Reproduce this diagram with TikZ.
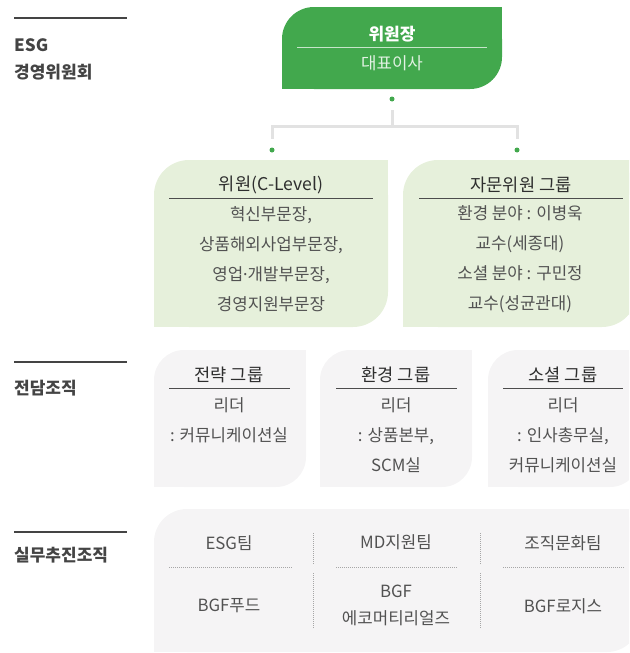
\documentclass[tikz,border=0pt]{standalone}
\usepackage{fontspec}
\setmainfont{Noto Sans CJK KR}
\newfontfamily\latinfont{Noto Sans}
\usetikzlibrary{calc}

\definecolor{esggreen}{HTML}{42A84D}
\definecolor{palegreen}{HTML}{E6F0DB}
\definecolor{palegray}{HTML}{F5F4F5}
\definecolor{linkgray}{HTML}{E2E2E2}
\definecolor{inkgray}{HTML}{444444}

% box with round top-left and bottom-right corners: x1,y1,x2,y2,radius,colour
\newcommand{\leafbox}[6]{%
  \fill[#6, rounded corners=#5pt] (#1,#2) rectangle (#3,#4);
  \fill[#6] (#3-#5,#2) rectangle (#3,#2+#5);
  \fill[#6] (#1,#4-#5) rectangle (#1+#5,#4);
}

\begin{document}
\begin{tikzpicture}[x=1pt,y=-1pt]
   \tikzstyle{every node}=[inner sep=0pt, font=\fontsize{16.8}{30}\selectfont, text=black!68]
   \tikzstyle{head}=[anchor=west, font=\fontsize{17}{20}\selectfont\bfseries, text=inkgray]
   \tikzstyle{title}=[font=\fontsize{17.6}{20}\selectfont, text=black!82]
   \tikzstyle{body}=[align=center]
   \tikzstyle{headrule}=[line width=2.5pt, draw=inkgray]
   \tikzstyle{rule}=[line width=0.9pt, draw=black!70]
   \tikzstyle{dotrule}=[line width=0.8pt, draw=black!35, dash pattern=on 1pt off 1pt]
   \tikzstyle{link}=[line width=3pt, draw=linkgray]
   \tikzstyle{dot}=[circle, fill=esggreen, minimum size=5pt]

\useasboundingbox (0,0) rectangle (629,653);
\clip (0,0) rectangle (629,653);

% left column
\draw[headrule] (14,18) -- (127,18);
\node[head] (esg) at (14,45) {ESG};
\node[head] (board) at (14,72) {경영위원회};
\draw[headrule] (14,362) -- (127,362);
\node[head] (dedicated) at (14,388) {전담조직};
\draw[headrule] (14,532) -- (127,532);
\node[head] (working) at (14,555) {실무추진조직};

% committee
\leafbox{282}{7}{502}{89}{32}{esggreen}
\node[font=\fontsize{17}{20}\selectfont\bfseries, text=white] (chair) at (392,34) {위원장};
\draw[line width=1pt, draw=white!70!esggreen] (297,47) -- (487,47);
\node[text=white!85!esggreen] (ceo) at (392,63) {대표이사};

\node[dot] (d0) at (392,99) {};
\node[dot] (d1) at (272,150) {};
\node[dot] (d2) at (517,150) {};
\draw[link] ($(d0)+(0,11)$) -- ($(d0)+(0,27)$);
\draw[link] ($(d1)+(0,-11)$) |- ($(d0)+(0,27)$) -| ($(d2)+(0,-11)$);

\leafbox{154}{160}{388}{327}{35}{palegreen}
\node[title] (member) at (271,185) {위원(C-Level)};
\draw[rule] (169,198) -- (373,198);
\node[body] (memberlist) at (271,259) {혁신부문장,\\상품해외사업부문장,\\영업{\latinfont ·}개발부문장,\\경영지원부문장};

\leafbox{403}{160}{637}{327}{35}{palegreen}
\node[title] (advisor) at (521,185) {자문위원 그룹};
\draw[rule] (419,198) -- (623,198);
\node[body] (advisorlist) at (520,259) {환경 분야 : 이병욱\\교수(세종대)\\소셜 분야 : 구민정\\교수(성균관대)};

% dedicated groups
\leafbox{154}{350}{306}{487}{30}{palegray}
\node[title] (strategy) at (229,375) {전략 그룹};
\draw[rule] (169,388) -- (290,388);
\node[body] (strategylead) at (229,420) {리더\\: 커뮤니케이션실};

\leafbox{320}{350}{472}{487}{30}{palegray}
\node[title] (environment) at (396,375) {환경 그룹};
\draw[rule] (336,388) -- (457,388);
\node[body] (environmentlead) at (396,435) {리더\\: 상품본부,\\SCM실};

\leafbox{488}{350}{640}{487}{30}{palegray}
\node[title] (social) at (563,375) {소셜 그룹};
\draw[rule] (503,388) -- (623,388);
\node[body] (sociallead) at (563,435) {리더\\: 인사총무실,\\커뮤니케이션실};

% working teams
\leafbox{154}{509}{640}{652}{33}{palegray}
\node (esgteam) at (229,543) {ESG팀};
\node (mdteam) at (396,542) {MD지원팀};
\node (cultureteam) at (563,543) {조직문화팀};
\draw[dotrule] (169,567) -- (292,567);
\draw[dotrule] (336,567) -- (458,567);
\draw[dotrule] (503,567) -- (625,567);
\draw[dotrule] (313,533) -- (313,565);
\draw[dotrule] (313,573) -- (313,629);
\draw[dotrule] (480,533) -- (480,565);
\draw[dotrule] (480,573) -- (480,629);
\node (food) at (229,606) {BGF푸드};
\node[body, font=\fontsize{16.8}{27}\selectfont] (eco) at (396,605) {BGF\\에코머티리얼즈};
\node (logis) at (563,606) {BGF로지스};

\end{tikzpicture}
\end{document}
